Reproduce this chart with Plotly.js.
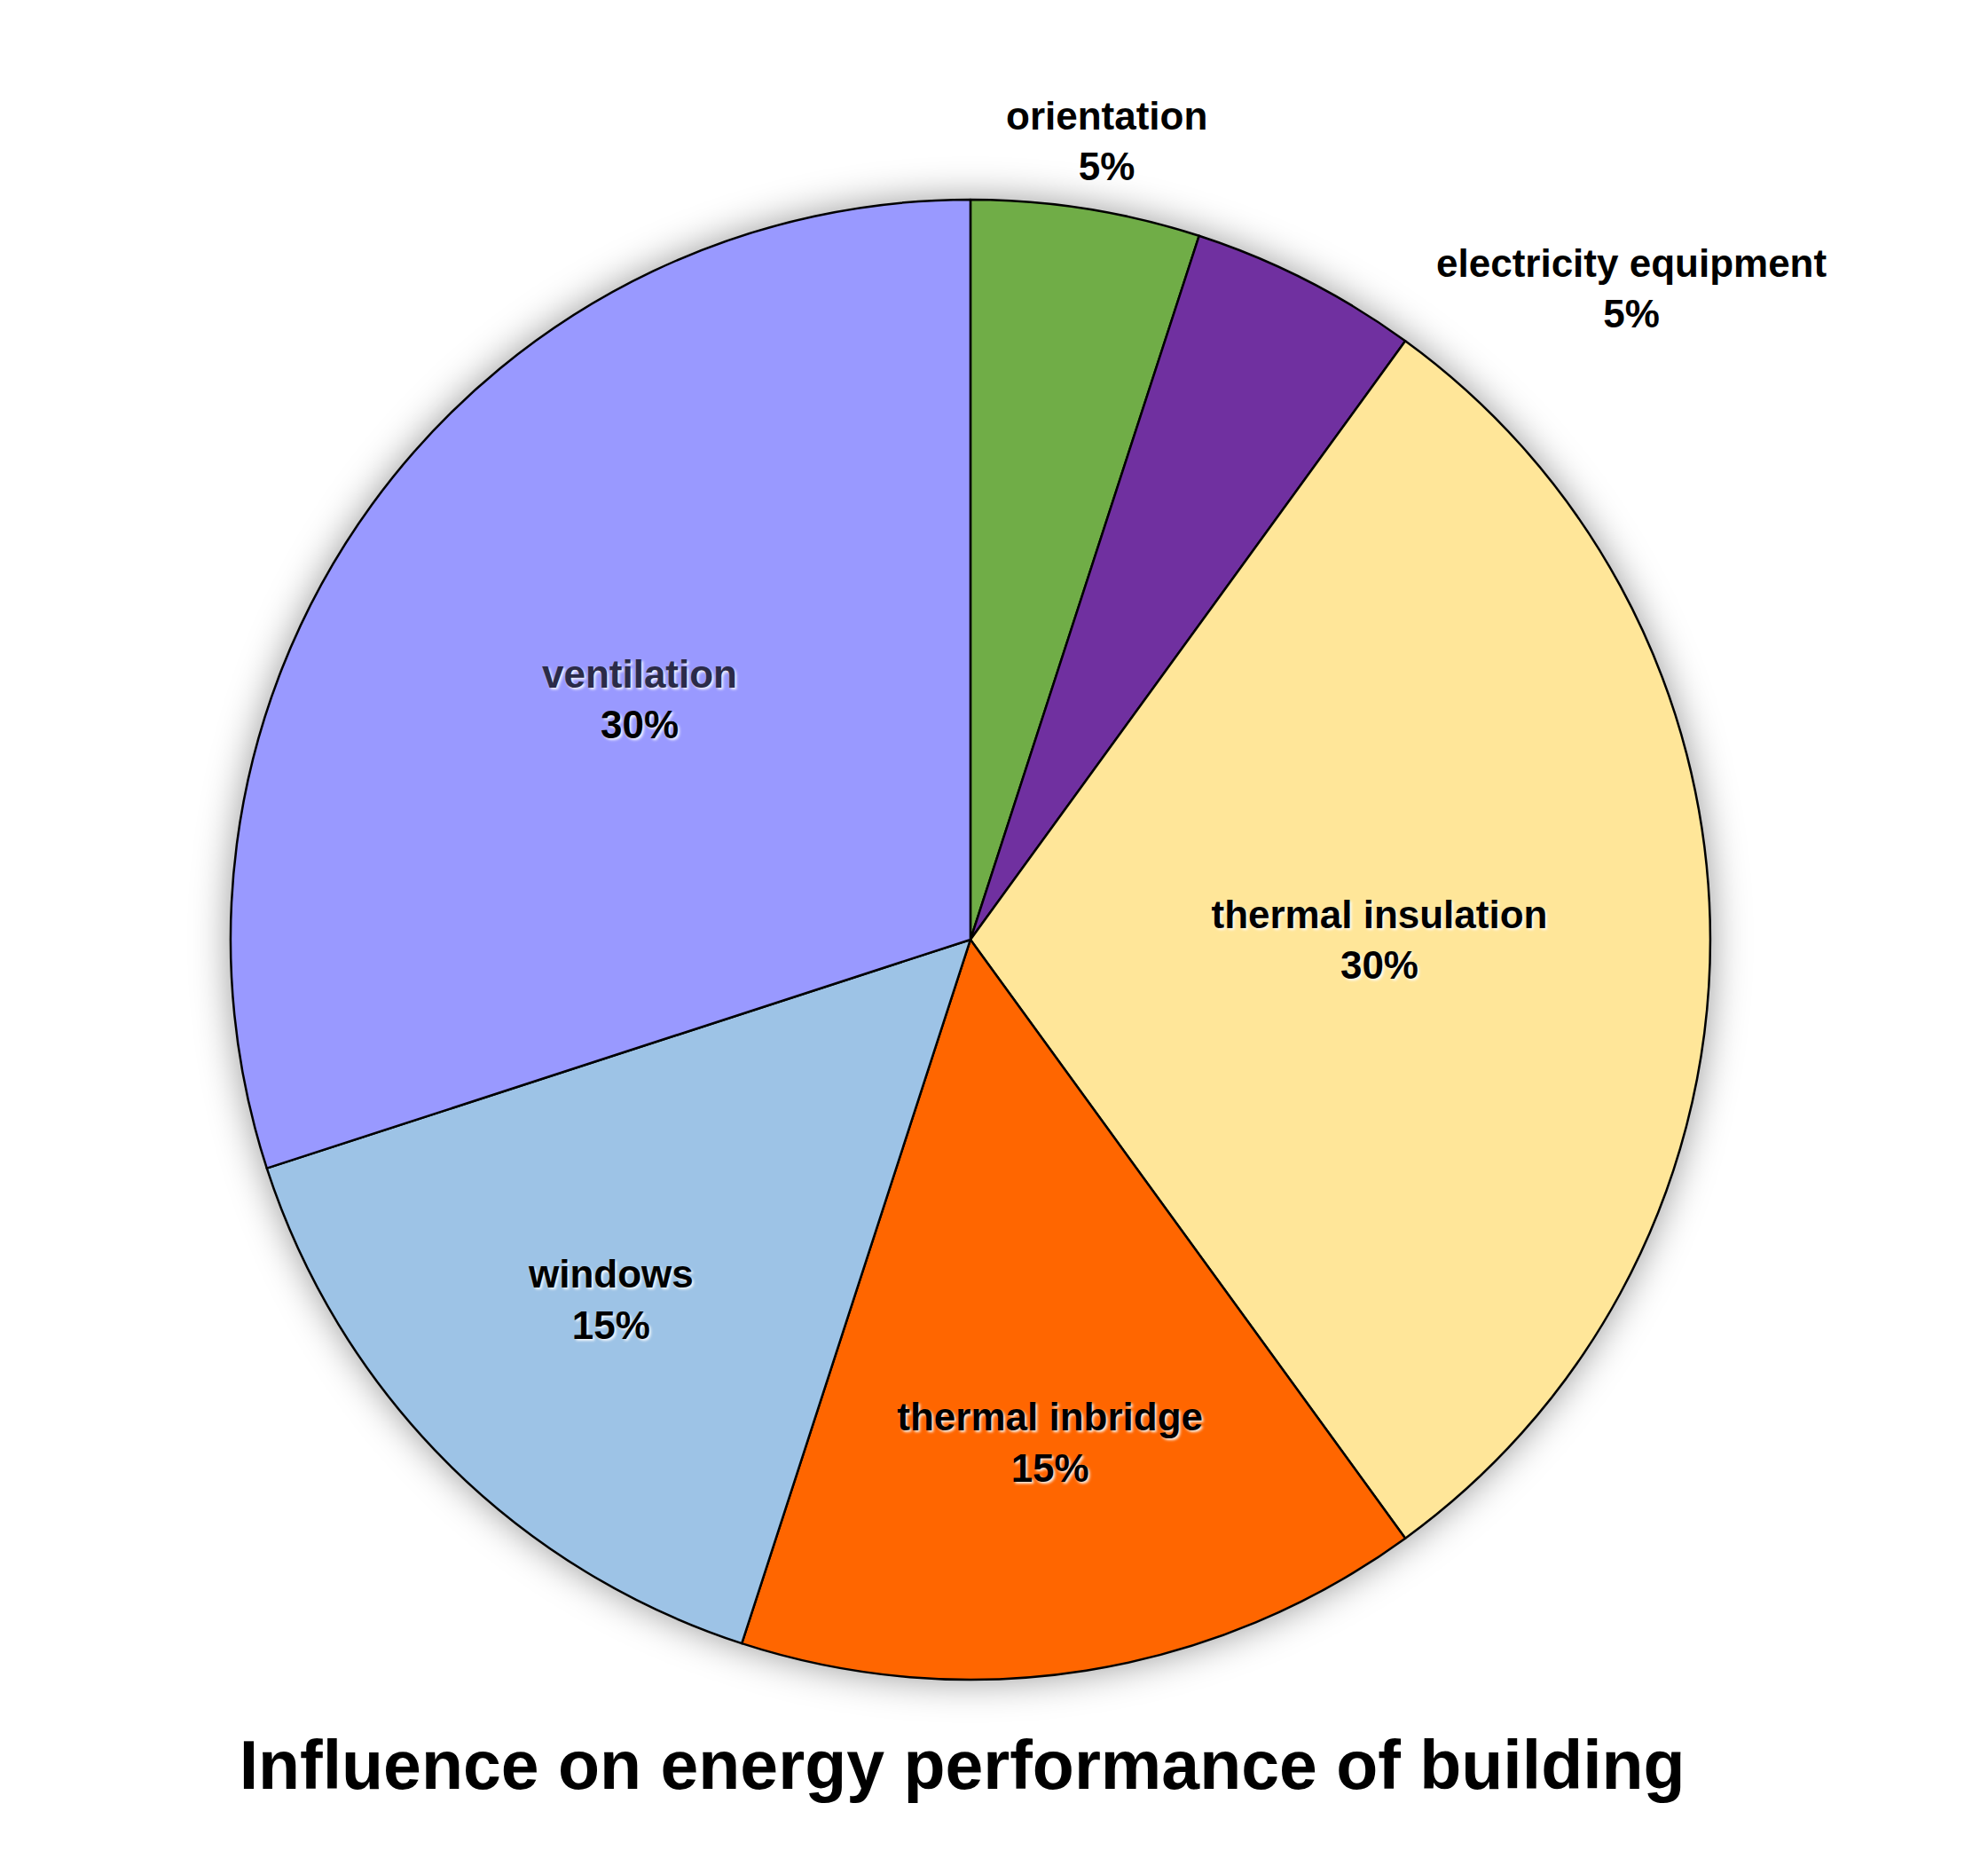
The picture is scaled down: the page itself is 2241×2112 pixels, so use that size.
<!DOCTYPE html>
<html>
<head>
<meta charset="utf-8">
<script src="https://cdn.plot.ly/plotly-3.0.1.min.js"></script>
<style>
  html, body { margin: 0; padding: 0; background: #fff; }
  #chart { width: 2241px; height: 2112px; }
  /* first pie trace is the soft drop shadow behind the real pie */
  .pielayer .trace:first-child { filter: blur(22px); }
</style>
</head>
<body>
<div id="chart"></div>
<script>
// slices, clockwise from 12 o'clock
const labels = ['orientation', 'electricity equipment', 'thermal insulation',
                'thermal inbridge', 'windows', 'ventilation'];
const values = [5, 5, 30, 15, 15, 30];
const colors = ['#70AD47', '#7030A0', '#FFE699', '#FF6600', '#9DC3E6', '#9999FF'];
const labelColors = ['#000000', '#000000', '#000000', '#000000', '#000000', '#2b2b48'];
// small slices get their label outside the pie
const textPos = ['none', 'none', 'inside', 'inside', 'inside', 'inside'];

const FONT = '"Liberation Sans", Arial, sans-serif';
const total = values.reduce((a, b) => a + b, 0);
const pct = v => Math.round(v / total * 100) + '%';
const pieDomain = { x: [0.1160, 0.8603], y: [0.1037, 0.8935] };

const shadow = {
    type: 'pie',
    labels: ['all'],
    values: [total],
    sort: false,
    marker: { colors: ['rgba(0,0,0,0.42)'], line: { width: 0 } },
    textinfo: 'none',
    hoverinfo: 'skip',
    showlegend: false,
    domain: pieDomain
};

const pie = {
    type: 'pie',
    labels: labels,
    values: values,
    sort: false,
    direction: 'clockwise',
    rotation: 0,
    marker: {
        colors: colors,
        line: { color: '#000000', width: 2.5 }
    },
    text: labels.map((l, i) => '<span style="color:' + labelColors[i] + '">' + l + '</span>'),
    texttemplate: '%{text}<br>%{percent:.0%}',
    textposition: textPos,
    insidetextorientation: 'horizontal',
    textfont: { family: FONT, size: 44, color: '#000000', weight: 'bold',
                shadow: '2px 2px 3px rgba(255,255,255,0.9)' },
    hoverinfo: 'label+percent',
    showlegend: false,
    domain: pieDomain
};

// outside labels for the two 5% slices
const annotations = [
    { i: 0, x: 0.5565, y: 0.9247 },
    { i: 1, x: 0.8206, y: 0.846 }
].map(a => ({
    xref: 'paper', yref: 'paper', x: a.x, y: a.y,
    xanchor: 'center', yanchor: 'middle', showarrow: false,
    text: '<b>' + labels[a.i] + '<br>' + pct(values[a.i]) + '</b>',
    font: { family: FONT, size: 44, color: '#000000' }
}));

const layout = {
    width: 2241,
    height: 2112,
    margin: { l: 0, r: 0, t: 0, b: 0 },
    paper_bgcolor: '#ffffff',
    title: {
        text: '<b>Influence on energy performance of building</b>',
        font: { family: FONT, size: 77, color: '#000000' },
        x: 0.484, xanchor: 'center',
        y: 0.058, yanchor: 'middle'
    },
    annotations: annotations
};

Plotly.newPlot('chart', [shadow, pie], layout, { displayModeBar: false, staticPlot: true });
</script>
</body>
</html>
